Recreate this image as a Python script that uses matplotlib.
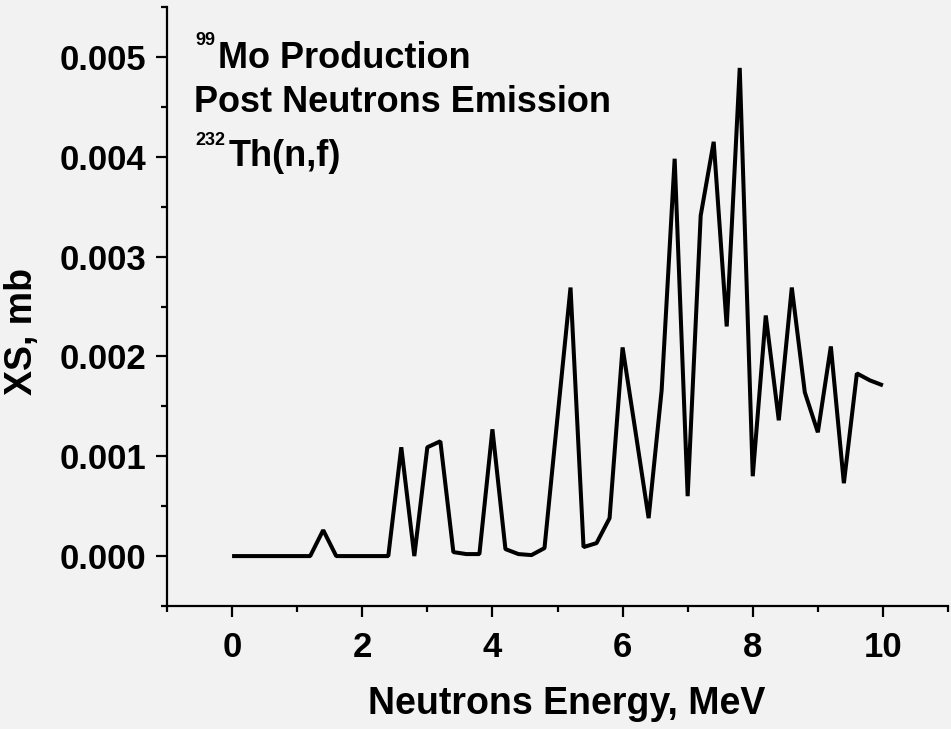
"""Cross section of 99Mo production (post neutron emission) from 232Th(n,f)."""

import numpy as np
import matplotlib

matplotlib.use("Agg")
import matplotlib.pyplot as plt
from matplotlib.ticker import MultipleLocator

plt.rcParams["font.family"] = ["Liberation Sans", "DejaVu Sans"]
plt.rcParams["font.weight"] = "bold"

# neutron energy grid, MeV
energy = [0.0, 0.2, 0.4, 0.6, 0.8, 1.0, 1.2, 1.4, 1.6, 1.8,
          2.0, 2.2, 2.4, 2.6, 2.8, 3.0, 3.2, 3.4, 3.6, 3.8,
          4.0, 4.2, 4.4, 4.6, 4.8, 5.0, 5.2, 5.4, 5.6, 5.8,
          6.0, 6.2, 6.4, 6.6, 6.8, 7.0, 7.2, 7.4, 7.6, 7.8,
          8.0, 8.2, 8.4, 8.6, 8.8, 9.0, 9.2, 9.4, 9.6, 9.8, 10.0]

# cross section, mb
xs = [0.0, 0.0, 0.0, 0.0, 0.0, 0.0, 0.0, 0.00026, 0.0, 0.0,
      0.0, 0.0, 0.0, 0.00109, 0.0, 0.00109, 0.00115, 0.00004, 0.00002, 0.00002,
      0.00127, 0.00007, 0.00002, 0.00001, 0.00008, 0.00139, 0.00269, 0.00009, 0.00013, 0.00038,
      0.00209, 0.00124, 0.00038, 0.00166, 0.00398, 0.0006, 0.00341, 0.00415, 0.0023, 0.00489,
      0.0008, 0.00241, 0.00136, 0.00269, 0.00164, 0.00124, 0.0021, 0.00073, 0.00183, 0.00176, 0.00171]

BG = "#f2f2f2"
W, H = 951, 729


def fx(px):
    return px / W


def fy(py):
    return 1 - py / H


fig = plt.figure(figsize=(W / 100, H / 100), dpi=100, facecolor=BG)
ax = fig.add_axes([fx(167), fy(606), (948 - 167) / W, (606 - 7) / H])
ax.set_facecolor(BG)

ax.plot(energy, xs, color="black", lw=2.9,
        solid_joinstyle="bevel", solid_capstyle="butt")

ax.set_xlim(-1, 11)
ax.set_ylim(-0.0005, 0.0055)
ax.xaxis.set_major_locator(MultipleLocator(2))
ax.xaxis.set_minor_locator(MultipleLocator(1))
ax.yaxis.set_major_locator(MultipleLocator(0.001))
ax.yaxis.set_minor_locator(MultipleLocator(0.0005))
ax.yaxis.set_major_formatter(matplotlib.ticker.FormatStrFormatter("%.3f"))

for side in ("top", "right"):
    ax.spines[side].set_visible(False)
for side in ("left", "bottom"):
    ax.spines[side].set_linewidth(1.6)

ax.tick_params(which="major", direction="out", length=8, width=1.6,
               labelsize=25)
ax.tick_params(which="minor", direction="out", length=4, width=1.6)
ax.tick_params(axis="x", which="major", pad=10)
ax.tick_params(axis="y", which="major", pad=7)

ax.set_xlabel("Neutrons Energy, MeV", fontsize=27, fontweight="bold")
ax.set_ylabel("XS, mb", fontsize=27, fontweight="bold")
ax.xaxis.set_label_coords(0.512, -0.133)
ax.yaxis.set_label_coords(-0.162, 0.459)

# annotation block with isotope superscripts
fig.text(fx(195), fy(45), "99", fontsize=13, fontweight="bold", va="baseline")
fig.text(fx(218), fy(68), "Mo Production", fontsize=26, fontweight="bold",
         va="baseline")
fig.text(fx(194), fy(112), "Post Neutrons Emission", fontsize=26,
         fontweight="bold", va="baseline")
fig.text(fx(195), fy(145), "232", fontsize=13, fontweight="bold", va="baseline")
fig.text(fx(229), fy(166), "Th(n,f)", fontsize=26, fontweight="bold",
         va="baseline")

fig.savefig("out.png", dpi=100, facecolor=BG)
